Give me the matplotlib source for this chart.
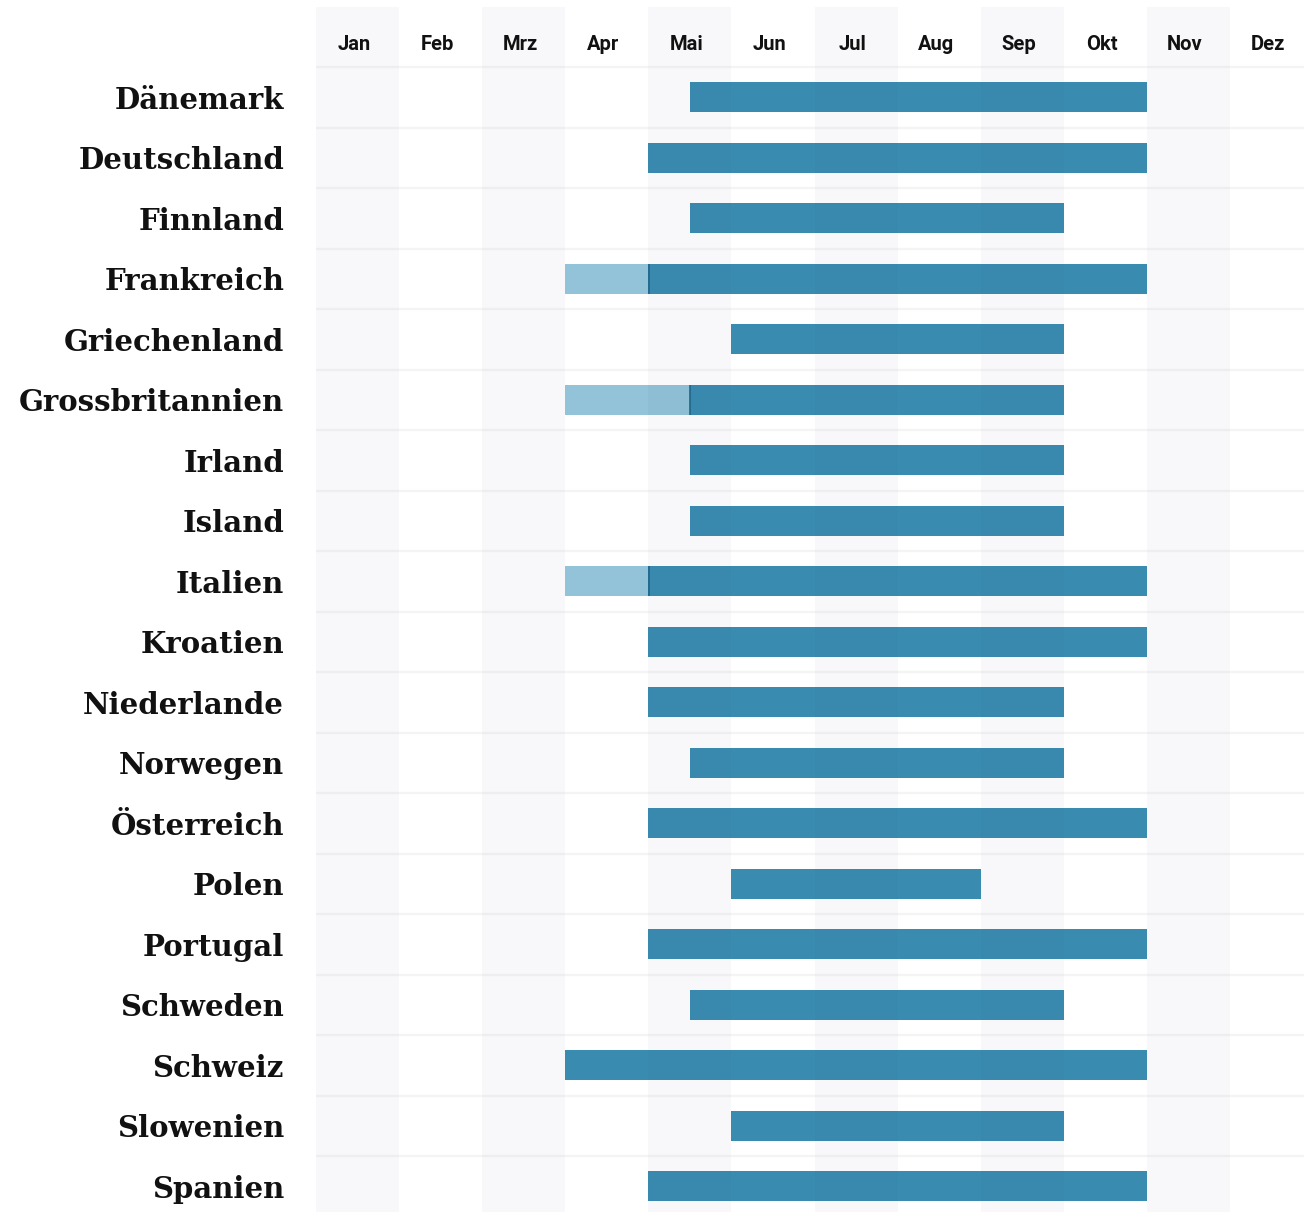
import matplotlib
matplotlib.use("Agg")
import matplotlib.pyplot as plt
from matplotlib.transforms import blended_transform_factory

months = ["Jan", "Feb", "Mrz", "Apr", "Mai", "Jun", "Jul", "Aug", "Sep", "Okt", "Nov", "Dez"]
countries = ["Dänemark", "Deutschland", "Finnland", "Frankreich", "Griechenland",
             "Grossbritannien", "Irland", "Island", "Italien", "Kroatien", "Niederlande",
             "Norwegen", "Österreich", "Polen", "Portugal", "Schweden", "Schweiz",
             "Slowenien", "Spanien"]
# season start / end in months (0 = start of January)
main_start = [4.5, 4.0, 4.5, 4.0, 5.0, 4.5, 4.5, 4.5, 4.0, 4.0, 4.0, 4.5, 4.0, 5.0, 4.0, 4.5, 3.0, 5.0, 4.0]
main_end = [10.0, 10.0, 9.0, 10.0, 9.0, 9.0, 9.0, 9.0, 10.0, 10.0, 9.0, 9.0, 10.0, 8.0, 10.0, 9.0, 10.0, 9.0, 10.0]
# shoulder (pre-season) segments
pre_start = [None, None, None, 3.0, None, 3.0, None, None, 3.0, None, None, None, None, None, None, None, None, None, None]
pre_end = [None, None, None, 4.0, None, 4.5, None, None, 4.0, None, None, None, None, None, None, None, None, None, None]

W, H = 1304, 1212
fig = plt.figure(figsize=(W / 100, H / 100), dpi=100)
ax = fig.add_axes([316 / W, 0, 988 / W, 1205 / H])
ax.set_xlim(0, 988 / 83.1)
ax.set_ylim((1212 - 67) / 60.5, -60 / 60.5)
ax.axis("off")

dark = "#3a8bb0"
light = "#92c3d8"
bh = 0.5

n = len(countries)
# row separators
for i in range(n + 1):
    ax.axhline(i, color="#f4f4f5", lw=1.6, zorder=1)

for i, c in enumerate(countries):
    y = i + 0.5
    if pre_start[i] is not None:
        ax.barh(y, pre_end[i] - pre_start[i], left=pre_start[i], height=bh,
                color=light, zorder=2)
        ax.vlines(main_start[i] + 0.005, y - bh / 2, y + bh / 2, color="#1f6689", lw=1.2, zorder=4)
    ax.barh(y, main_end[i] - main_start[i], left=main_start[i], height=bh,
            color=dark, zorder=2)

# shaded alternating columns, drawn over bars with low alpha
for m in range(0, 12, 2):
    ax.axvspan(m, m + 1, color="#2a3a70", alpha=0.033, lw=0, zorder=3)

for m, name in enumerate(months):
    ax.text(m + 0.5 - 0.042, -0.281, name, ha="center", va="baseline", fontsize=14.5,
            family="Roboto", weight="bold", color="#111111", zorder=5)

trans = blended_transform_factory(fig.transFigure, ax.transData)
for i, c in enumerate(countries):
    ax.text(284 / W, i + 0.5 + 0.19, c, transform=trans, ha="right", va="baseline",
            fontsize=21, family="DejaVu Serif", weight="bold", color="#111111")

fig.savefig("out.png", dpi=100, facecolor="white")
